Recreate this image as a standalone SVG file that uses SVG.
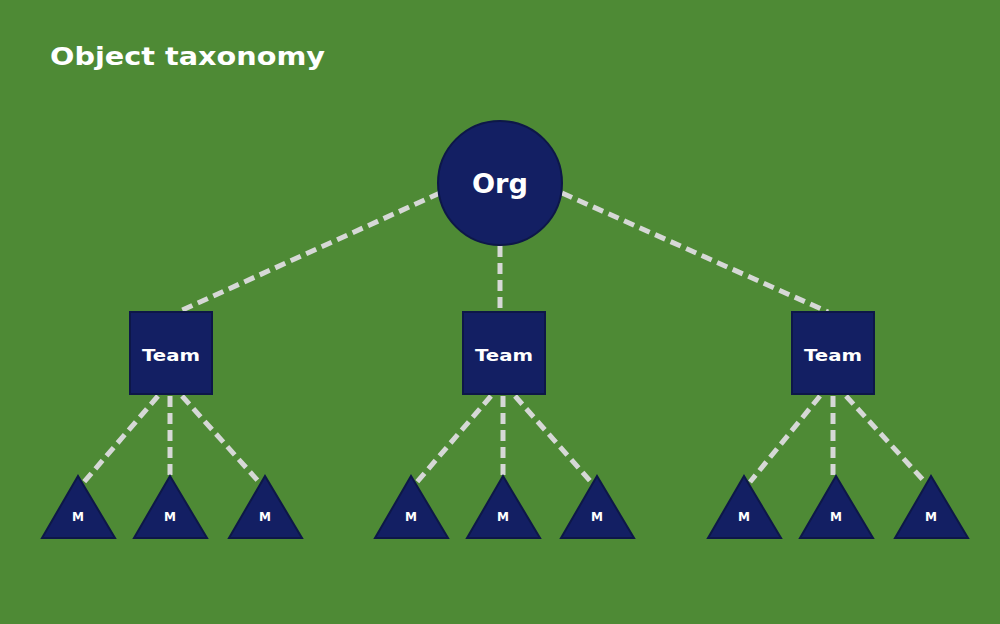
<svg xmlns="http://www.w3.org/2000/svg" width="1000" height="624" viewBox="0 0 1000 624">
<style>
.n{fill:#131f63;stroke:#0d1748;stroke-width:2}
.e{stroke:#d6d8d6;stroke-width:5;stroke-dasharray:11 6;fill:none}
.t{fill:#fff;font-family:"DejaVu Sans","Liberation Sans",sans-serif;font-weight:bold;text-anchor:middle}
</style>
<rect width="1000" height="624" fill="#4e8a35"/>
<text x="50" y="65" font-family="'DejaVu Sans','Liberation Sans',sans-serif" font-weight="bold" font-size="25" fill="#fff" textLength="275" lengthAdjust="spacingAndGlyphs">Object taxonomy</text>
<g id="connectors">
<line class="e" x1="440" y1="193" x2="178" y2="312"/>
<line class="e" x1="500" y1="246" x2="500" y2="312"/>
<line class="e" x1="562" y1="193" x2="828" y2="312"/>
<line class="e" x1="158" y1="396" x2="84" y2="482"/>
<line class="e" x1="170" y1="396" x2="170" y2="478"/>
<line class="e" x1="182" y1="396" x2="259" y2="482"/>
<line class="e" x1="491" y1="396" x2="417" y2="482"/>
<line class="e" x1="503" y1="396" x2="503" y2="478"/>
<line class="e" x1="515" y1="396" x2="591" y2="482"/>
<line class="e" x1="820" y1="396" x2="750" y2="482"/>
<line class="e" x1="833" y1="396" x2="833" y2="478"/>
<line class="e" x1="846" y1="396" x2="925" y2="482"/>
</g>
<g id="org"><circle class="n" cx="500" cy="183" r="62"/><text class="t" x="500" y="193" font-size="27" textLength="56" lengthAdjust="spacingAndGlyphs">Org</text></g>
<g id="team1"><rect class="n" x="130" y="312" width="82" height="82"/><text class="t" x="171" y="361" font-size="16" textLength="58" lengthAdjust="spacingAndGlyphs">Team</text></g>
<g id="team2"><rect class="n" x="463" y="312" width="82" height="82"/><text class="t" x="504" y="361" font-size="16" textLength="58" lengthAdjust="spacingAndGlyphs">Team</text></g>
<g id="team3"><rect class="n" x="792" y="312" width="82" height="82"/><text class="t" x="833" y="361" font-size="16" textLength="58" lengthAdjust="spacingAndGlyphs">Team</text></g>
<g id="m1"><polygon class="n" points="78,476 42,538 115,538"/><text class="t" x="78" y="521" font-size="12">M</text></g>
<g id="m2"><polygon class="n" points="170,476 134,538 207,538"/><text class="t" x="170" y="521" font-size="12">M</text></g>
<g id="m3"><polygon class="n" points="265,476 229,538 302,538"/><text class="t" x="265" y="521" font-size="12">M</text></g>
<g id="m4"><polygon class="n" points="411,476 375,538 448,538"/><text class="t" x="411" y="521" font-size="12">M</text></g>
<g id="m5"><polygon class="n" points="503,476 467,538 540,538"/><text class="t" x="503" y="521" font-size="12">M</text></g>
<g id="m6"><polygon class="n" points="597,476 561,538 634,538"/><text class="t" x="597" y="521" font-size="12">M</text></g>
<g id="m7"><polygon class="n" points="744,476 708,538 781,538"/><text class="t" x="744" y="521" font-size="12">M</text></g>
<g id="m8"><polygon class="n" points="836,476 800,538 873,538"/><text class="t" x="836" y="521" font-size="12">M</text></g>
<g id="m9"><polygon class="n" points="931,476 895,538 968,538"/><text class="t" x="931" y="521" font-size="12">M</text></g>
</svg>
